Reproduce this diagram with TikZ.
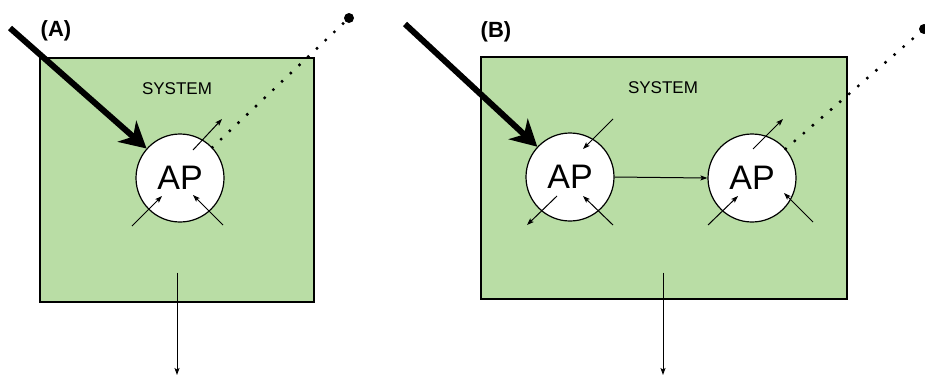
\documentclass[tikz,border=0pt]{standalone}
\usepackage{fontspec}
\setmainfont{Liberation Sans}
\usetikzlibrary{arrows.meta}
\definecolor{sysgreen}{HTML}{B9DDA5}
\tikzset{
  sysbox/.style={draw=black, line width=1.2pt, fill=sysgreen, inner sep=0pt},
  apnode/.style={circle, draw=black, line width=1.2pt, fill=white, minimum size=88pt,
                 inner sep=0pt, font=\fontsize{34}{36}\selectfont},
  systext/.style={font=\fontsize{17}{20}\selectfont},
  panellabel/.style={font=\fontsize{22}{24}\selectfont\bfseries},
  bigarrow/.style={line width=6pt, -{Stealth[length=26pt,width=28pt,inset=8pt]}},
  small/.style={line width=1pt, -{Stealth[length=7pt,width=5pt,inset=1.5pt]}},
  outflow/.style={line width=1pt, -{Stealth[length=7pt,width=5pt,inset=1.5pt]}},
  dotline/.style={line width=3.4pt, line cap=round, dash pattern=on 0pt off 12pt},
  enddot/.style={circle, fill=black, inner sep=0pt, minimum size=10pt},
}
\begin{document}
\begin{tikzpicture}[x=1pt, y=-1pt]
\useasboundingbox (0,0) rectangle (925,376);

% ---------- panel A ----------
\node[sysbox, minimum width=274pt, minimum height=244pt] (sysA) at (177,180) {};
\node[systext] (sysAtext) at (177,89) {SYSTEM};
\node[panellabel] (labA) at (56,31) {(A)};
\coordinate (inA) at (10,28);
\node[apnode] (apA) at (180,178) {AP};
\node[enddot] (dotA) at (349,18) {};
\draw[bigarrow] (inA) -- (apA);
\draw[small] ([shift={(13,-28)}]apA.center) -- ([shift={(42,-59)}]apA.center);
\draw[small] ([shift={(-48,48)}]apA.center) -- ([shift={(-18,18)}]apA.center);
\draw[small] ([shift={(43,47)}]apA.center) -- ([shift={(13,17)}]apA.center);
\draw[dotline] (apA) -- (dotA);
\coordinate (outA) at (177,375);
\draw[outflow] ([yshift=30pt]sysA.south) -- (outA);

% ---------- panel B ----------
\node[sysbox, minimum width=366pt, minimum height=242pt] (sysB) at (664,178) {};
\node[systext] (sysBtext) at (663,88) {SYSTEM};
\node[panellabel] (labB) at (496,32) {(B)};
\coordinate (inB) at (405,24);
\node[apnode] (apB1) at (570,177) {AP};
\node[apnode] (apB2) at (752,178) {AP};
\node[enddot] (dotB) at (924,29) {};
\draw[bigarrow] (inB) -- (apB1);
\draw[small] (apB1.east) -- (apB2.west);
% arrows round the first AP
\draw[small] ([shift={(43,-58)}]apB1.center) -- ([shift={(13,-28)}]apB1.center);
\draw[small] ([shift={(-13,19)}]apB1.center) -- ([shift={(-43,48)}]apB1.center);
\draw[small] ([shift={(43,48)}]apB1.center) -- ([shift={(13,19)}]apB1.center);
% arrows round the second AP
\draw[small] ([shift={(1,-29)}]apB2.center) -- ([shift={(31,-59)}]apB2.center);
\draw[small] ([shift={(-44,47)}]apB2.center) -- ([shift={(-14,18)}]apB2.center);
\draw[small] ([shift={(61,44)}]apB2.center) -- ([shift={(32,15)}]apB2.center);
\draw[dotline] (apB2) -- (dotB);
\coordinate (outB) at (663,375);
\draw[outflow] ([xshift=-1pt,yshift=27pt]sysB.south) -- (outB);
\end{tikzpicture}
\end{document}
